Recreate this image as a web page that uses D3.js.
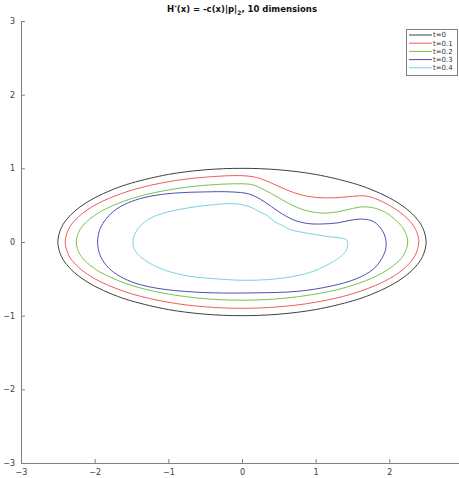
<!DOCTYPE html>
<html>
<head>
<meta charset="utf-8">
<script src="https://cdn.jsdelivr.net/npm/d3@7"></script>
<style>
  html, body { margin: 0; padding: 0; background: #fff; }
  svg { display: block; }
  text { font-family: "DejaVu Sans", sans-serif; }
</style>
</head>
<body>
<svg id="chart" width="459" height="478"></svg>
<script>
// Level-set contours of the front at several times (x, y pairs, closed curves)
const seriesNames = ["t=0", "t=0.1", "t=0.2", "t=0.3", "t=0.4"];
const seriesColors = ["#404040", "#f25a5a", "#78c24c", "#4e4eb4", "#78d2e2"];

const contour0 = [
  [-2.5, 0], [-2.45, 0.199], [-2.35, 0.341], [-2.2, 0.475], [-2.0, 0.6], [-1.75, 0.714],
  [-1.5, 0.8], [-1.0, 0.917], [-0.5, 0.98], [0, 1.0], [0.5, 0.98], [1.0, 0.917],
  [1.5, 0.8], [1.75, 0.714], [2.0, 0.6], [2.2, 0.475], [2.35, 0.341], [2.45, 0.199],
  [2.5, 0], [2.45, -0.199], [2.35, -0.341], [2.2, -0.475], [2.0, -0.6], [1.75, -0.714],
  [1.5, -0.8], [1.0, -0.917], [0.5, -0.98], [0, -1.0], [-0.5, -0.98], [-1.0, -0.917],
  [-1.5, -0.8], [-1.75, -0.714], [-2.0, -0.6], [-2.2, -0.475], [-2.35, -0.341], [-2.45, -0.199]
];

const contour1 = [
  [-2.4, 0], [-2.35, 0.183], [-2.25, 0.313], [-2.1, 0.436], [-1.9, 0.55], [-1.5, 0.703],
  [-1.0, 0.818], [-0.5, 0.88], [0, 0.9], [0.2, 0.875], [0.4, 0.8], [0.6, 0.71],
  [0.8, 0.64], [1.0, 0.605], [1.25, 0.6], [1.5, 0.62], [1.68, 0.625], [1.85, 0.573],
  [2.0, 0.497], [2.15, 0.4], [2.3, 0.257], [2.37, 0.142], [2.4, 0],
  [2.35, -0.183], [2.25, -0.313], [2.1, -0.436], [1.9, -0.55], [1.5, -0.703],
  [1.0, -0.818], [0.5, -0.88], [0, -0.9], [-0.5, -0.88], [-1.0, -0.818], [-1.5, -0.703],
  [-1.9, -0.55], [-2.1, -0.436], [-2.25, -0.313], [-2.35, -0.183]
];

const contour2 = [
  [-2.25, 0], [-2.2, 0.166], [-2.1, 0.284], [-2.0, 0.362], [-1.9, 0.423], [-1.6, 0.555],
  [-1.2, 0.668], [-0.6, 0.761], [0, 0.79], [0.15, 0.775], [0.3, 0.71], [0.5, 0.6],
  [0.7, 0.49], [0.9, 0.42], [1.1, 0.392], [1.3, 0.41], [1.5, 0.455], [1.65, 0.478],
  [1.8, 0.46], [1.95, 0.4], [2.1, 0.284], [2.2, 0.166], [2.25, 0],
  [2.2, -0.166], [2.1, -0.284], [1.9, -0.423], [1.6, -0.555], [1.2, -0.668],
  [0.6, -0.761], [0, -0.79], [-0.6, -0.761], [-1.2, -0.668], [-1.6, -0.555],
  [-1.9, -0.423], [-2.0, -0.362], [-2.1, -0.284], [-2.2, -0.166]
];

const contour3 = [
  [-1.96, 0], [-1.93, 0.17], [-1.84, 0.32], [-1.7, 0.45], [-1.5, 0.55], [-1.25, 0.62],
  [-0.9, 0.665], [-0.5, 0.68], [-0.15, 0.68], [0.1, 0.65], [0.3, 0.55], [0.5, 0.41],
  [0.7, 0.3], [0.9, 0.25], [1.1, 0.245], [1.3, 0.26], [1.5, 0.3], [1.65, 0.31],
  [1.78, 0.28], [1.88, 0.19], [1.94, 0.08], [1.955, -0.07], [1.9, -0.22], [1.78, -0.37],
  [1.55, -0.5], [1.2, -0.6], [0.75, -0.67], [0.2, -0.69], [-0.4, -0.69], [-0.9, -0.66],
  [-1.25, -0.61], [-1.5, -0.54], [-1.7, -0.44], [-1.84, -0.32], [-1.93, -0.17]
];

const contour4 = [
  [-1.48, 0], [-1.45, 0.12], [-1.38, 0.22], [-1.25, 0.32], [-1.0, 0.41], [-0.75, 0.46],
  [-0.45, 0.5], [-0.1, 0.52], [0.1, 0.48], [0.22, 0.42], [0.34, 0.36], [0.45, 0.27],
  [0.56, 0.22], [0.65, 0.17], [0.8, 0.135], [1.0, 0.1], [1.2, 0.07], [1.33, 0.055],
  [1.42, 0.03], [1.43, -0.08], [1.38, -0.16], [1.28, -0.24], [1.1, -0.34], [0.9, -0.42],
  [0.55, -0.49], [0.1, -0.52], [-0.35, -0.5], [-0.8, -0.45], [-1.15, -0.34],
  [-1.38, -0.2], [-1.46, -0.1]
];

const contours = [contour0, contour1, contour2, contour3, contour4];
const xTicks = [-3, -2, -1, 0, 1, 2];
const yTicks = [-3, -2, -1, 0, 1, 2, 3];

const svg = d3.select("#chart");

const x = d3.scaleLinear().domain([-3, 3]).range([21, 463]);
const y = d3.scaleLinear().domain([-3, 3]).range([463, 21]);

const axisColor = "#808080";
const labelColor = "#404040";

// Bottom axis (ticks point into the plot); the line runs on past the window edge
const xAxis = svg.append("g")
  .attr("transform", `translate(0,${y(-3)})`)
  .call(d3.axisBottom(x).tickValues(xTicks).tickFormat(d3.format("d"))
    .tickSizeInner(-4).tickSizeOuter(0).tickPadding(6));
// Left axis
const yAxis = svg.append("g")
  .attr("transform", `translate(${x(-3)},0)`)
  .call(d3.axisLeft(y).tickValues(yTicks).tickFormat(d3.format("d"))
    .tickSizeInner(-4).tickSizeOuter(0).tickPadding(6));

[xAxis, yAxis].forEach(g => {
  g.select(".domain").attr("stroke", axisColor).attr("stroke-width", 1);
  g.selectAll(".tick line").attr("stroke", axisColor);
  g.selectAll(".tick text").attr("fill", labelColor).style("font-size", "8px")
    .style("font-family", "DejaVu Sans, sans-serif");
});

// Contours
const line = d3.line()
  .x(d => x(d[0]))
  .y(d => y(d[1]))
  .curve(d3.curveCatmullRomClosed.alpha(0.5));

svg.append("g").selectAll("path")
  .data(contours)
  .join("path")
  .attr("d", d => line(d))
  .attr("fill", "none")
  .attr("stroke", (d, i) => seriesColors[i])
  .attr("stroke-width", 1);

// Title
const title = svg.append("text")
  .attr("x", 242)
  .attr("y", 12)
  .attr("text-anchor", "middle")
  .style("font-size", "8.5px")
  .style("font-weight", "bold")
  .attr("fill", "#111");
title.append("tspan").text("H");
title.append("tspan").attr("dy", -3).style("font-size", "5px").text("*");
title.append("tspan").attr("dy", 3).text("(x) = -c(x)|p|");
title.append("tspan").attr("dy", 3).style("font-size", "6px").text("2");
title.append("tspan").attr("dy", -3).text(", 10 dimensions");

// Legend
const legend = svg.append("g");
legend.append("rect")
  .attr("x", 406.5).attr("y", 29.5)
  .attr("width", 51).attr("height", 46)
  .attr("fill", "#fff").attr("stroke", "#808080").attr("stroke-width", 1);

const rowY = d3.scaleLinear().domain([0, 4]).range([35, 67.8]);
const rows = legend.selectAll("g.row")
  .data(seriesNames)
  .join("g")
  .attr("class", "row")
  .attr("transform", (d, i) => `translate(0,${rowY(i)})`);
rows.append("line")
  .attr("x1", 409).attr("x2", 432)
  .attr("stroke", (d, i) => seriesColors[i]).attr("stroke-width", 1);
rows.append("text")
  .attr("x", 433).attr("y", 0).attr("dy", "0.35em")
  .style("font-size", "7px").attr("fill", "#333")
  .text(d => d);
</script>
</body>
</html>
